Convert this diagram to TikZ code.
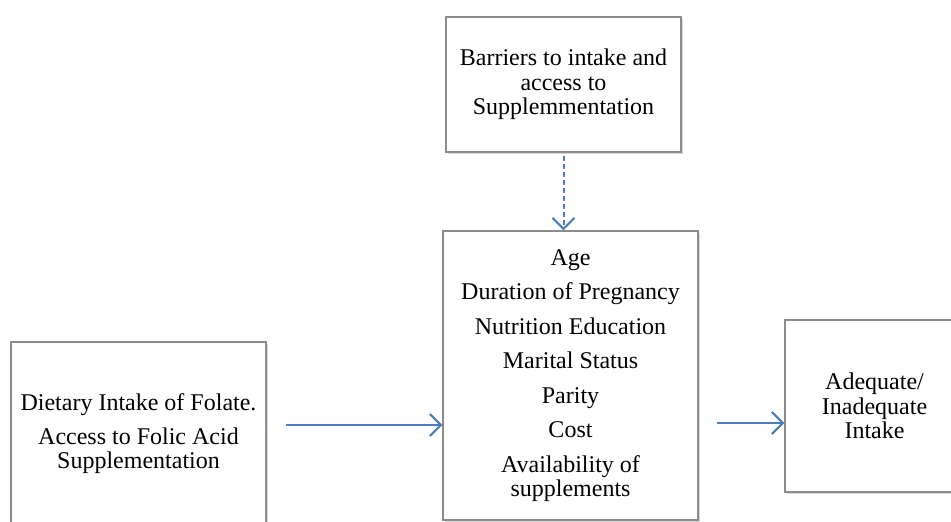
\documentclass[tikz,border=0pt]{standalone}
\usepackage{fontspec}
\setmainfont{Liberation Serif}
\usepackage{xcolor}
\usepackage{tikz}
\usetikzlibrary{arrows.meta,positioning,shadows}
\definecolor{arrblue}{HTML}{4A7EBB}

\begin{document}
\begin{tikzpicture}[
 x=1pt,y=-1pt,
 box/.style={draw=black!45,line width=1.4pt,fill=white,align=center,
 font=\fontsize{24}{24.5}\selectfont,inner sep=0pt,
 drop shadow={shadow xshift=1.5pt,shadow yshift=-1.5pt,opacity=.3}},
 arr/.style={-{Straight Barb[length=11pt,width=22pt]},arrblue,line width=2pt},
 dasharr/.style={arr,dash pattern=on 5pt off 3pt}]
\clip (0,0) rectangle (951,522);
\node[box,minimum width=235pt,minimum height=135pt] (barrier) at (563.5,84.5)
 {Barriers to intake and\\ access to\\ Supplemmentation};
\node[box,minimum width=255pt,minimum height=289pt] (factors) at (570.5,375.5)
 {Age\\[10pt] Duration of Pregnancy\\[10pt] Nutrition Education\\[10pt]
 Marital Status\\[10pt] Parity\\[10pt] Cost\\[10pt] Availability of\\ supplements};
\node[box,minimum width=255pt,minimum height=184pt] (diet) at (138.5,434)
 {Dietary Intake of Folate.\\[9pt] Access to Folic Acid\\ Supplementation};
\node[box,minimum width=179pt,minimum height=172pt] (outcome) at (874.5,406)
 {Adequate/\\ Inadequate\\ Intake};
\coordinate (in) at (286,425);
\coordinate (out) at (717,423);
\draw[dasharr] ([yshift=-3pt]barrier.south) -- (barrier.south |- factors.north);
\draw[arr] (in) -- (in -| factors.west);
\draw[arr] (out) -- (out -| outcome.west);
\end{tikzpicture}
\end{document}
